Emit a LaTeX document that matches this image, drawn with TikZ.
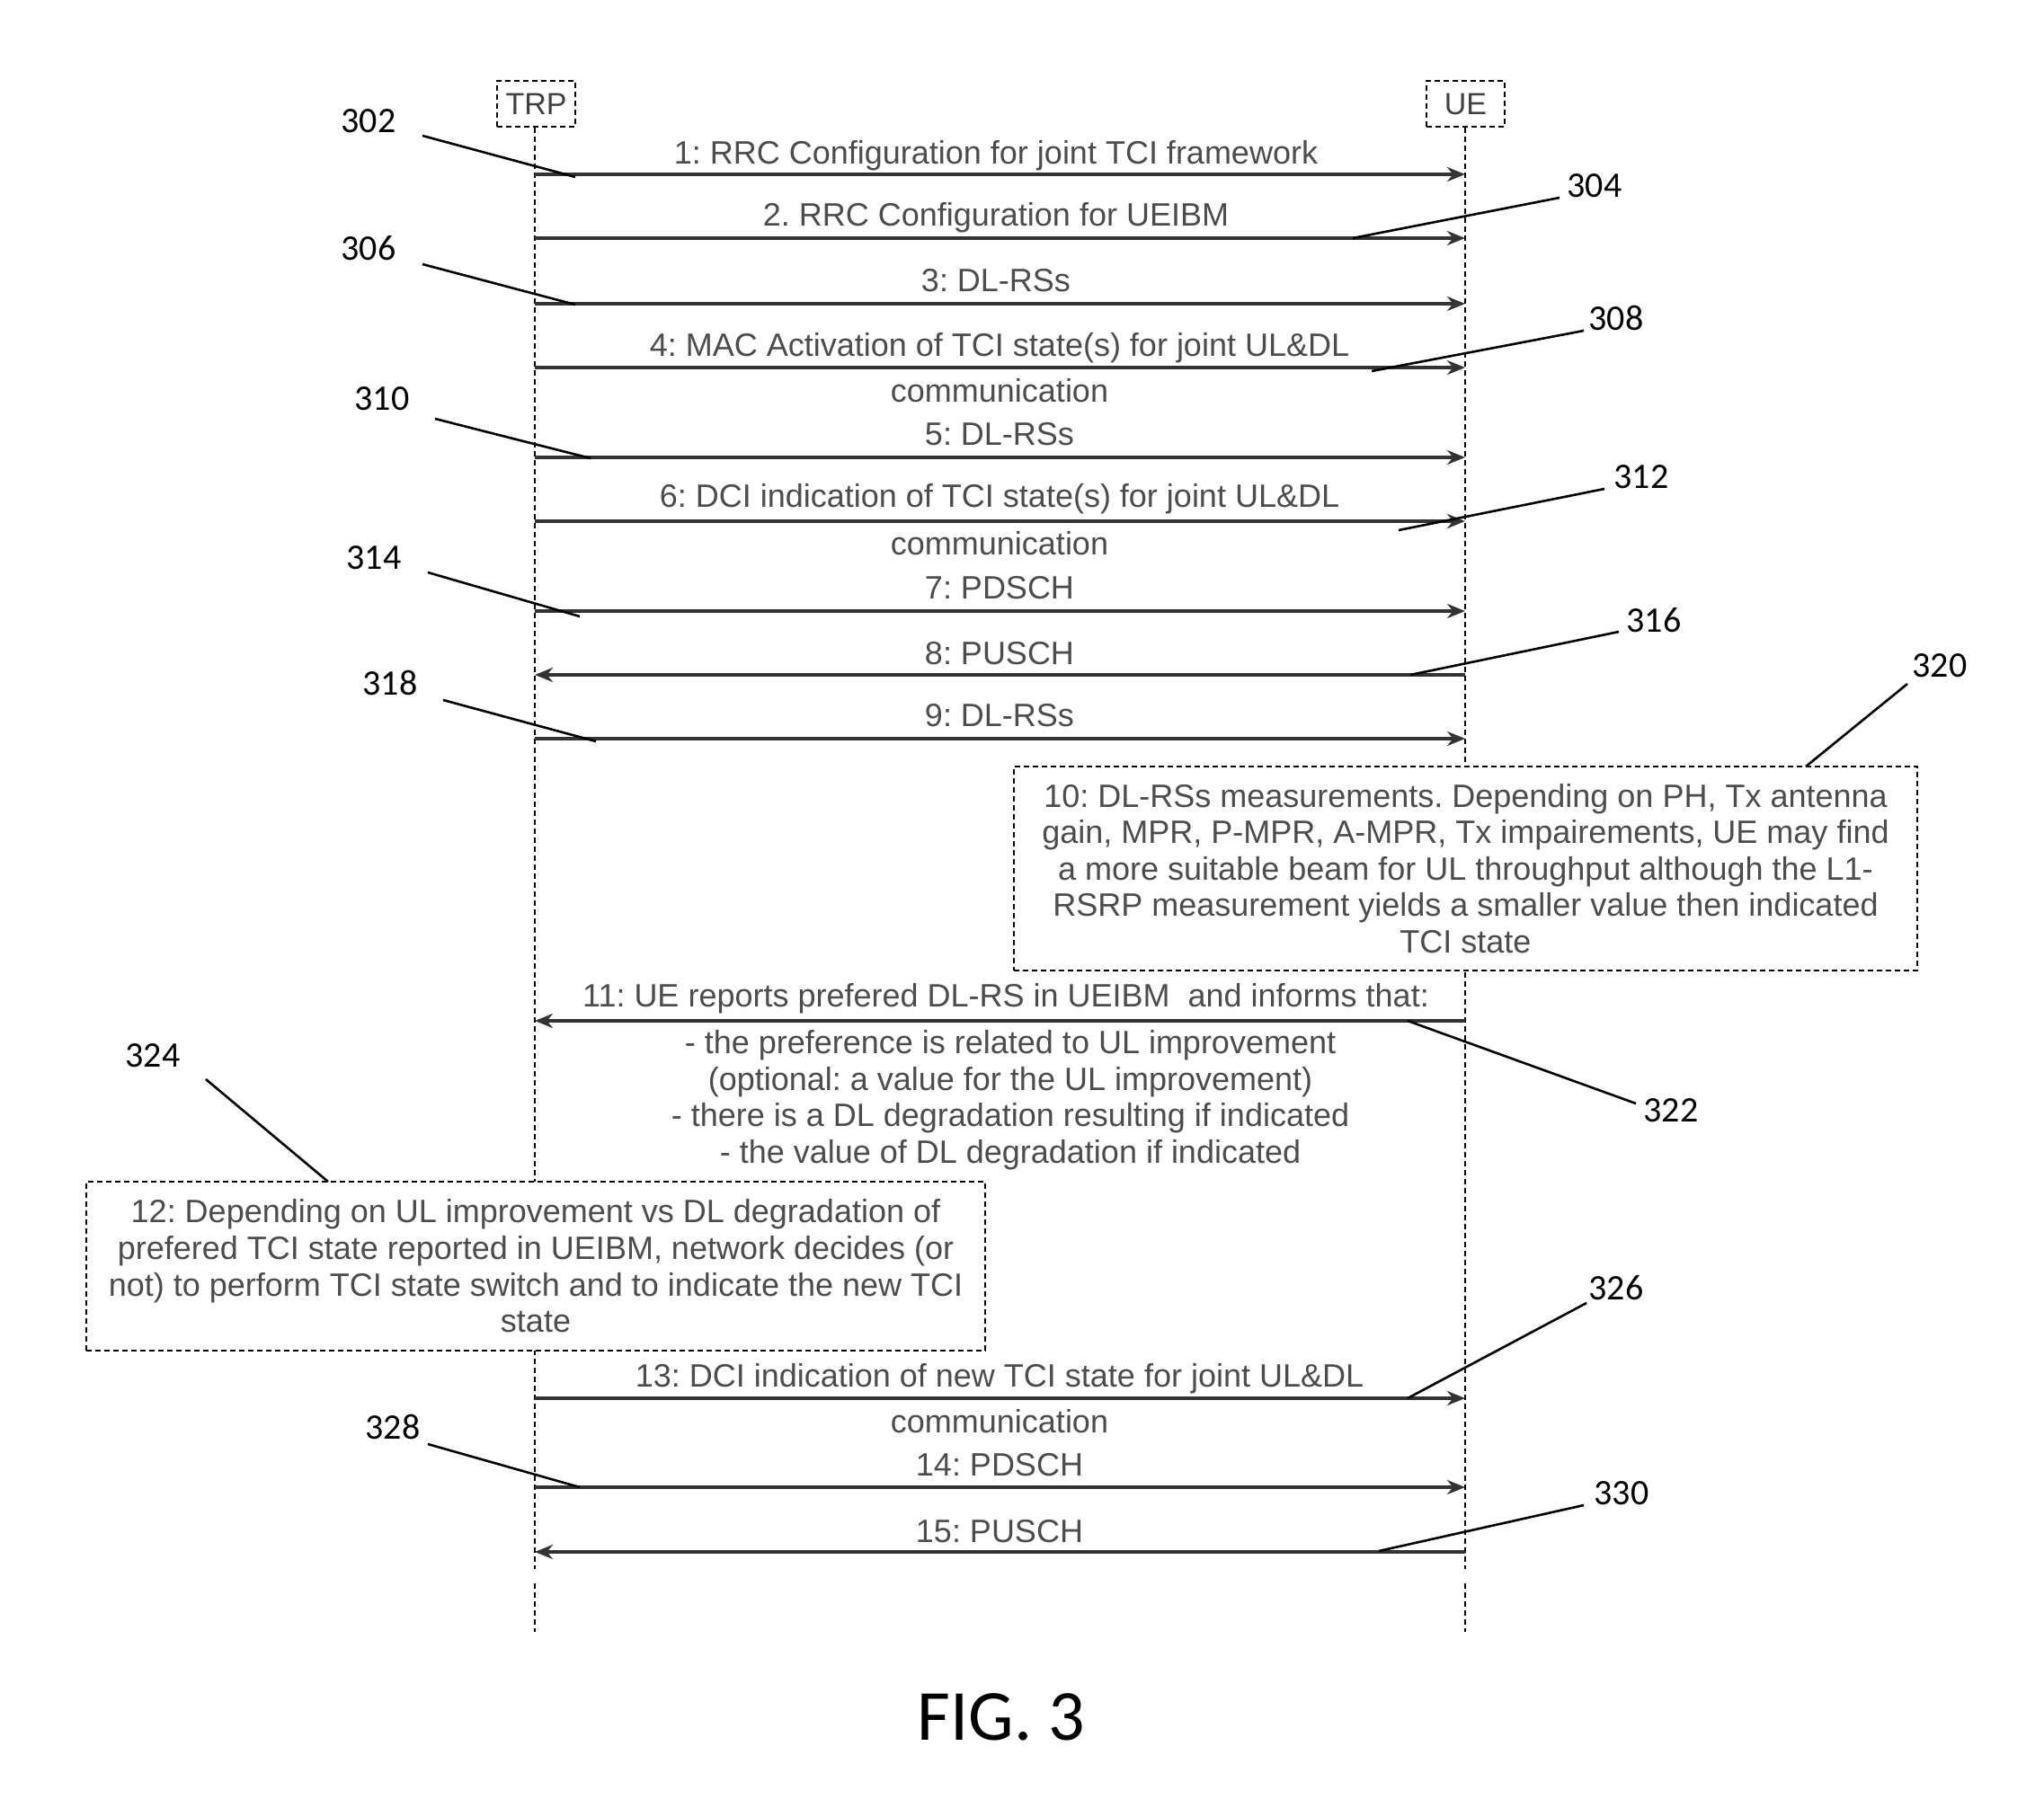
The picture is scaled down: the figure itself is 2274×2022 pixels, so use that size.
\documentclass[tikz,border=0pt]{standalone}
\usepackage{fontspec}
\setmainfont{Liberation Sans}
\newfontfamily\numfont{Carlito}
\usetikzlibrary{arrows.meta}
\frenchspacing
\begin{document}
\begin{tikzpicture}[x=0.5pt,y=-0.5pt,
  actor/.style={draw=black, densely dashed, line width=0.7pt, minimum width=43.5pt, minimum height=25.5pt, inner sep=0pt, text=black!75, font=\fontsize{17}{20}\selectfont},
  lifeline/.style={draw=black, densely dashed, line width=0.7pt},
  msg/.style={draw=black!80, line width=1.8pt, -{Stealth[length=10pt,width=8pt]}},
  lbl/.style={inner sep=0pt, text=black!70, align=center, font=\fontsize{18}{20.3}\selectfont},
  note/.style={draw=black, densely dashed, line width=0.7pt, fill=white, align=center, inner sep=0pt, text=black!70, font=\fontsize{18}{20.3}\selectfont},
  lead/.style={draw=black, line width=1.3pt},
  num/.style={inner sep=0pt, font=\numfont\fontsize{20}{24}\selectfont}
]
\useasboundingbox (0,0) rectangle (2274,2022);

% actors
\node[actor] (trp) at (596.5,115.5) {TRP};
\node[actor] (ue) at (1630.5,115.5) {UE};
\coordinate (trpA) at (595,1746); \coordinate (trpB) at (595,1762); \coordinate (trpE) at (595,1816);
\coordinate (ueA) at (1630,1746); \coordinate (ueB) at (1630,1762); \coordinate (ueE) at (1630,1816);
\draw[lifeline] (trp.south -| trpA) -- (trpA);
\draw[lifeline] (trpB) -- (trpE);
\draw[lifeline] (ue.south -| ueA) -- (ueA);
\draw[lifeline] (ueB) -- (ueE);

% message end points
\foreach \i/\y in {1/194,2/265,3/338,4/409,5/509,6/580,7/680,8/751,9/822,11/1136,13/1556,14/1655,15/1727}{
  \coordinate (t\i) at (595,\y);
  \coordinate (u\i) at (1630,\y);
}
\draw[msg] (t1) -- (u1);
\draw[msg] (t2) -- (u2);
\draw[msg] (t3) -- (u3);
\draw[msg] (t4) -- (u4);
\draw[msg] (t5) -- (u5);
\draw[msg] (t6) -- (u6);
\draw[msg] (t7) -- (u7);
\draw[msg] (u8) -- (t8);
\draw[msg] (t9) -- (u9);
\draw[msg] (u11) -- (t11);
\draw[msg] (t13) -- (u13);
\draw[msg] (t14) -- (u14);
\draw[msg] (u15) -- (t15);

% labels
\node[lbl] (l1) at (1108,173) {1: RRC Configuration for joint TCI framework};
\node[lbl] (l2) at (1108,242) {2. RRC Configuration for UEIBM};
\node[lbl] (l3) at (1108,312) {3: DL-RSs};
\node[lbl] (l4) at (1112,387) {4: MAC Activation of TCI state(s) for joint UL\&DL};
\node[lbl] (l4b) at (1112,435) {communication};
\node[lbl] (l5) at (1112,483) {5: DL-RSs};
\node[lbl] (l6) at (1112,555) {6: DCI indication of TCI state(s) for joint UL\&DL};
\node[lbl] (l6b) at (1112,605) {communication};
\node[lbl] (l7) at (1112,654) {7: PDSCH};
\node[lbl] (l8) at (1112,727) {8: PUSCH};
\node[lbl] (l9) at (1112,796) {9: DL-RSs};
\node[lbl] (l11) at (1119,1111) {11: UE reports prefered DL-RS in UEIBM\ \ and informs that:};
\node[lbl, anchor=north] (l11b) at (1124,1146) {- the preference is related to UL improvement\\(optional: a value for the UL improvement)\\- there is a DL degradation resulting if indicated\\- the value of DL degradation if indicated};
\node[lbl] (l13) at (1112,1534) {13: DCI indication of new TCI state for joint UL\&DL};
\node[lbl] (l13b) at (1112,1582) {communication};
\node[lbl] (l14) at (1112,1630) {14: PDSCH};
\node[lbl] (l15) at (1112,1704) {15: PUSCH};

% notes
\node[note, minimum width=502.5pt, minimum height=113.5pt] (n10) at (1630.5,966.5) {10: DL-RSs measurements. Depending on PH, Tx antenna\\gain, MPR, P-MPR, A-MPR, Tx impairements, UE may find\\a more suitable beam for UL throughput although the L1-\\RSRP measurement yields a smaller value then indicated\\TCI state};
\node[note, minimum width=500pt, minimum height=94pt] (n12) at (596,1409) {12: Depending on UL improvement vs DL degradation of\\prefered TCI state reported in UEIBM, network decides (or\\not) to perform TCI state switch and to indicate the new TCI\\state};

% reference numerals and leaders
\node[num] (r302) at (410,135) {302};
\node[num] (r304) at (1774,207) {304};
\node[num] (r306) at (410,276) {306};
\node[num] (r308) at (1798,354) {308};
\node[num] (r310) at (425,444) {310};
\node[num] (r312) at (1826,531) {312};
\node[num] (r314) at (416,621) {314};
\node[num] (r316) at (1840,690) {316};
\node[num] (r318) at (434,760) {318};
\node[num] (r320) at (2158,741) {320};
\node[num] (r322) at (1859,1236) {322};
\node[num] (r324) at (170,1175) {324};
\node[num] (r326) at (1798,1433) {326};
\node[num] (r328) at (437,1588) {328};
\node[num] (r330) at (1804,1662) {330};

\foreach \n/\ax/\ay/\bx/\by in {302/470/151/640/197, 304/1735/220/1505/265, 306/470/294/640/339, 308/1762/368/1526/413, 310/484/466/657/510, 312/1785/544/1556/590, 314/476/637/645/686, 316/1801/703/1569/751, 318/493/779/663/825, 320/2122/761/2009/853, 322/1820/1228/1566/1136, 324/229/1201/365/1315, 326/1765/1450/1566/1556, 328/476/1607/645/1655, 330/1762/1675/1534/1726}{
  \coordinate (a\n) at (\ax,\ay);
  \coordinate (b\n) at (\bx,\by);
  \draw[lead] (a\n) -- (b\n);
}

\node[inner sep=0pt, font=\numfont\fontsize{40}{48}\selectfont] (fig) at (1114,1911) {FIG. 3};
\end{tikzpicture}
\end{document}
